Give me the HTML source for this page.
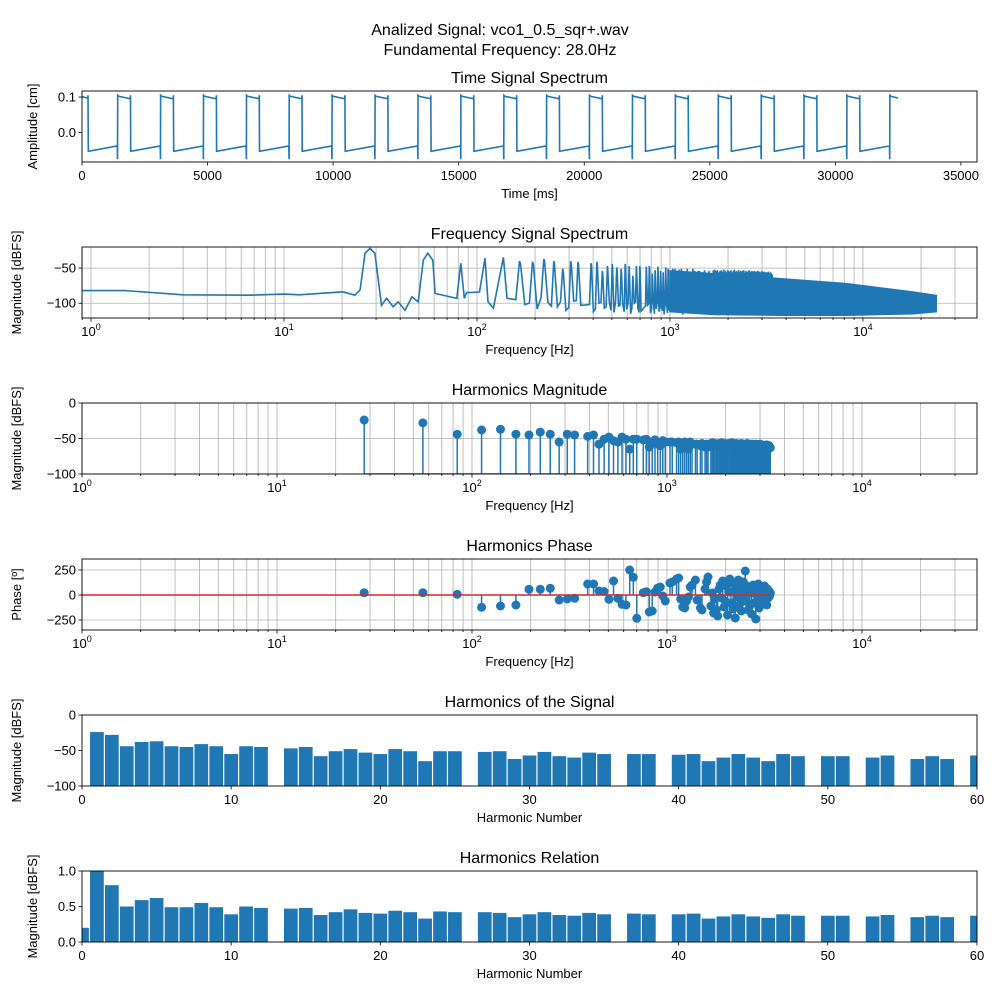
<!DOCTYPE html>
<html><head><meta charset="utf-8"><style>
html,body{margin:0;padding:0;background:#fff;}
svg{display:block;font-family:"Liberation Sans","DejaVu Sans",sans-serif;}
</style></head><body>
<svg id="fig" width="1000" height="1000" viewBox="0 0 1000 1000" xmlns="http://www.w3.org/2000/svg">
<rect width="1000" height="1000" fill="#fff"/>
<text x="500" y="35" font-size="16" text-anchor="middle">Analized Signal: vco1_0.5_sqr+.wav</text>
<text x="500" y="55" font-size="16" text-anchor="middle">Fundamental Frequency: 28.0Hz</text>
</svg>
<script>
// ---------- data ----------
const riseTimes=[1420,3130,4840,6550,8250,9960,11670,13380,15090,16800,18500,20210,21920,23630,25340,27050,28750,30460,32170];
const timeEnd=32500;
const specF=[0.9,1.5,3,6.67,10,12,20.2,23.3,24.8,26.3,27.9,29.6,32,34,36.8,39,42.4,46,49.6,52.7,55.6,59,60.7,72.5,78.6,82.4,86,88.3,103,110,114,121.6,137,143];
const specDb=[-82,-82,-88,-88.6,-87,-88,-83.8,-88.6,-81,-29,-22,-29,-103,-93,-105,-98,-110,-91,-98,-38.6,-29,-38.6,-86,-91,-93,-43,-93,-85,-84,-36,-98,-107,-34.6,-93];
const floorDb=[-95,-100,-92,-104,-98,-106,-96,-102,-108,-99,-105,-110,-97,-103,-112,-100,-107,-98,-113,-104,-101,-109,-115,-100,-106,-111,-103,-114,-99,-108,-112,-105,-116,-102,-110];
const envF=[1000,1700,3700,8200,18200,24000];
const envTop=[-54,-58,-65,-72,-84,-89];
const envBot=[-112,-116,-117,-117,-115,-112];
const harmNlow=[1,2,3,4,5,6,7,8,9,10,11,12,14,15,16,17,18,19,20,21,22,23,24,25,27,28,29,30,31,32,33,34,35,37,38,40,41,42,43,44,45,46,47,48,50,51,53,54,56,57,58,60];
const harmMag=[-24,-28,-44,-38,-37,-44,-45,-41,-44,-55,-44,-45,-47,-45,-58,-51,-48,-53,-55,-48,-51,-65,-51,-51,-52,-51,-62,-57,-52,-58,-60,-53,-55,-55,-55,-56,-55,-65,-60,-55,-60,-65,-55,-58,-58,-58,-60,-57,-62,-58,-62,-57,
-56,-58,-57,-60,-58,-57,-59,-56,-58,-60,-57,-58,-59,-57,-60,-58,-56,-59,-58,-60,-57,-59,-58,-60,-58,-57,-61,-58,-59,-60,-58,-57,-60,-59,-58,-61,-59,-58,-60,-59,-61,-58,-60,-59,-61,-60,-58,-61,-60,-59,-61,-60,-62,-60,-61,-59,-62,-61,-60,-62,-63];
const harmPhase=[23,23,7,-123,-110,-100,57,57,67,-50,-40,-33,110,110,40,35,-43,140,-33,-93,-100,250,177,-233,23,33,-170,-160,30,70,80,-10,-60,120,130,160,170,-40,-120,-130,-60,-20,80,100,150,-50,-130,-150,60,130,180,-110,
20,-180,-40,-150,-210,60,100,-30,140,-120,-60,90,-200,30,160,-80,120,-140,40,-230,80,-20,150,-100,60,-160,10,130,-60,240,-40,90,-150,50,-110,70,-190,20,100,-80,40,-240,60,-50,110,-130,30,80,-20,-90,50,-60,90,-40,20,-100,60,-30,40,-10,20];
const barN=[0,1,2,3,4,5,6,7,8,9,10,11,12,14,15,16,17,18,19,20,21,22,23,24,25,27,28,29,30,31,32,33,34,35,37,38,40,41,42,43,44,45,46,47,48,50,51,53,54,56,57,58,60];
const barDb=[-100,-24,-28,-44,-38,-37,-44,-45,-41,-44,-55,-44,-45,-47,-45,-58,-51,-48,-53,-55,-48,-51,-65,-51,-51,-52,-51,-62,-57,-52,-58,-60,-53,-55,-55,-55,-56,-55,-65,-60,-55,-60,-65,-55,-58,-58,-58,-60,-57,-62,-58,-62,-57];
const barRel=[0.2,1.0,0.8,0.5,0.59,0.62,0.49,0.49,0.55,0.49,0.39,0.5,0.48,0.47,0.48,0.38,0.42,0.46,0.41,0.40,0.44,0.42,0.33,0.43,0.42,0.42,0.41,0.35,0.39,0.42,0.38,0.37,0.41,0.39,0.40,0.39,0.39,0.40,0.33,0.36,0.39,0.36,0.34,0.39,0.37,0.37,0.37,0.36,0.38,0.35,0.37,0.35,0.37];
const fund=28.0;
const harmN=harmNlow.slice();
for(let n=61;n<=121;n++) harmN.push(n);

// ---------- helpers ----------
const NS='http://www.w3.org/2000/svg';
const svg=document.getElementById('fig');
const BLUE='#1f77b4';
function mk(tag,attrs,parent){const e=document.createElementNS(NS,tag);for(const k in attrs)e.setAttribute(k,attrs[k]);(parent||svg).appendChild(e);return e;}
const L=82,R=977,H=71;
function linS(d0,d1,r0,r1){return v=>r0+(v-d0)/(d1-d0)*(r1-r0);}
function logS(d0,d1,r0,r1){const a=Math.log10(d0),b=Math.log10(d1);return v=>r0+(Math.log10(v)-a)/(b-a)*(r1-r0);}
let clipId=0;
function panel(name,top){
  const g=mk('g',{});
  
  
  const cid='clip'+(clipId++);
  const cp=mk('clipPath',{id:cid},g);mk('rect',{x:L,y:top,width:R-L,height:H},cp);
  const grid=mk('g',{},g);
  const marks=mk('g',{'clip-path':'url(#'+cid+')'},g);
  const axes=mk('g',{},g);
  return {g,grid,marks,axes,top,bot:top+H};
}
function frame(p){mk('rect',{x:L,y:p.top,width:R-L,height:H,fill:'none',stroke:'#000','stroke-width':0.9},p.axes);}
function xTick(p,x,label,minor,gridOn,sup){
  if(gridOn){mk('line',{x1:x,x2:x,y1:p.top,y2:p.bot,stroke:'#b0b0b0','stroke-width':0.8},p.grid);}
  mk('line',{x1:x,x2:x,y1:p.bot,y2:p.bot+(minor?2:3.5),stroke:'#000','stroke-width':0.8},p.axes);
  if(label!==null){
    const t=mk('text',{x:x,y:p.bot+18,'font-size':13,'text-anchor':'middle'},p.axes);
    
    
    if(sup!==undefined){t.textContent='10';const s=mk('tspan',{'font-size':9,dy:-6},t);s.textContent=sup;}
    else t.textContent=label;
  }
}
function yTick(p,y,label,gridOn){
  if(gridOn)mk('line',{x1:L,x2:R,y1:y,y2:y,stroke:'#b0b0b0','stroke-width':0.8},p.grid);
  mk('line',{x1:L-3.5,x2:L,y1:y,y2:y,stroke:'#000','stroke-width':0.8},p.axes);
  const t=mk('text',{x:L-6,y:y+4.5,'font-size':13,'text-anchor':'end'},p.axes);
  
  
  t.textContent=label;
}
function labels(p,title,xl,yl,ylx){
  const t=mk('text',{x:(L+R)/2,y:p.top-8,'font-size':16,'text-anchor':'middle'},p.axes);
  
  
  t.textContent=title;
  const x=mk('text',{x:(L+R)/2,y:p.bot+36,'font-size':13,'text-anchor':'middle'},p.axes);
  
  
  x.textContent=xl;
  const y=mk('text',{x:ylx,y:(p.top+p.bot)/2,'font-size':13,'text-anchor':'middle',transform:'rotate(-90 '+ylx+' '+(p.top+p.bot)/2+')'},p.axes);
  
  
  y.textContent=yl;
}
function logTicks(p,xs,d0,d1,gridOn){
  for(let e=-1;e<=5;e++){for(let m=1;m<10;m++){const v=m*Math.pow(10,e);if(v<d0-1e-9||v>d1)continue;
    xTick(p,xs(v),m===1?'':null,m!==1,gridOn,m===1?String(e):undefined);}}
}
const minus=s=>String(s).replace('-','\u2212');

// ---------- Panel 1: time ----------
(function(){
  const p=panel('time-signal-panel',91);
  const xs=linS(0,35640,L,R), ys=linS(-0.083,0.117,p.bot,p.top);
  let pts=[[0,0.101],[230,0.097],[240,0.105],[250,-0.053]];
  riseTimes.forEach((t,i)=>{
    pts.push([t-15,-0.038],[t-5,-0.075],[t,0.105],[t+40,0.102],[t+500,0.095],[t+510,0.105]);
    if(t+520<timeEnd) pts.push([t+520,-0.053]);
  });
  const last=riseTimes[riseTimes.length-1];
  pts=pts.filter(q=>!(q[0]>last+40));
  pts.push([timeEnd,0.097]);
  const path=mk('path',{d:'M'+pts.map(q=>xs(q[0]).toFixed(1)+','+ys(q[1]).toFixed(1)).join('L'),fill:'none',stroke:BLUE,'stroke-width':1.6},p.marks);
  
  
  [0,5000,10000,15000,20000,25000,30000,35000].forEach(v=>xTick(p,xs(v),String(v),false,false));
  yTick(p,ys(0.1),'0.1',false);yTick(p,ys(0),'0.0',false);
  frame(p);labels(p,'Time Signal Spectrum','Time [ms]','Amplitude [cm]',37);
})();

// ---------- Panel 2: frequency spectrum ----------
(function(){
  const p=panel('frequency-spectrum-panel',247);
  const xs=logS(0.898,39000,L,R), ys=linS(-121,-20,p.bot,p.top);
  const pts=specF.map((f,i)=>[f,specDb[i]]);
  let k=0;
  harmN.forEach((n,i)=>{ if(n<6) return; const f=fund*n;
    pts.push([f-9,floorDb[k%floorDb.length]],[f-2,harmMag[i]+4],[f,harmMag[i]],[f+9,floorDb[(k+7)%floorDb.length]]); k++; });
  const path=mk('path',{d:'M'+pts.map(q=>xs(q[0]).toFixed(1)+','+ys(q[1]).toFixed(1)).join('L'),fill:'none',stroke:BLUE,'stroke-width':1.6},p.marks);
  
  
  const band=envF.map((f,i)=>xs(f).toFixed(1)+','+ys(envTop[i]).toFixed(1)).concat(envF.slice().reverse().map((f,j)=>{const i=envF.length-1-j;return xs(f).toFixed(1)+','+ys(envBot[i]).toFixed(1);}));
  const poly=mk('polygon',{points:band.join(' '),fill:BLUE,stroke:BLUE,'stroke-width':1.5},p.marks);
  
  
  logTicks(p,xs,0.898,39000,true);
  [-50,-100].forEach(v=>yTick(p,ys(v),minus(v),true));
  frame(p);labels(p,'Frequency Signal Spectrum','Frequency [Hz]','Magnitude [dBFS]',21);
})();

// ---------- Panel 3: harmonics magnitude ----------
(function(){
  const p=panel('harmonics-magnitude-panel',403);
  const xs=logS(1,38900,L,R), ys=linS(-100,0,p.bot,p.top);
  logTicks(p,xs,1,38900,true);
  [0,-50,-100].forEach(v=>yTick(p,ys(v),minus(v),true));
  harmN.forEach((n,i)=>{const x=xs(fund*n);
    const l=mk('line',{x1:x,x2:x,y1:ys(-100),y2:ys(harmMag[i]),stroke:BLUE,'stroke-width':1.5},p.marks);
    
    });
  const bl=mk('line',{x1:xs(fund*harmN[0]),x2:xs(fund*harmN[harmN.length-1]),y1:ys(-100),y2:ys(-100),stroke:'#d62728','stroke-width':1.5},p.marks);
  
  
  harmN.forEach((n,i)=>{
    const c=mk('circle',{cx:xs(fund*n),cy:ys(harmMag[i]),r:4.5,fill:BLUE},p.marks);
    
    });
  frame(p);labels(p,'Harmonics Magnitude','Frequency [Hz]','Magnitude [dBFS]',21);
})();

// ---------- Panel 4: harmonics phase ----------
(function(){
  const p=panel('harmonics-phase-panel',559);
  const xs=logS(1,38900,L,R), ys=linS(-350,360,p.bot,p.top);
  logTicks(p,xs,1,38900,true);
  [250,0,-250].forEach(v=>yTick(p,ys(v),minus(v),true));
  harmN.forEach((n,i)=>{const x=xs(fund*n);
    const l=mk('line',{x1:x,x2:x,y1:ys(0),y2:ys(harmPhase[i]),stroke:BLUE,'stroke-width':1.5},p.marks);
    
    });
  harmN.forEach((n,i)=>{
    const c=mk('circle',{cx:xs(fund*n),cy:ys(harmPhase[i]),r:4.5,fill:BLUE},p.marks);
    
    });
  const bl=mk('line',{x1:L,x2:xs(fund*harmN[harmN.length-1]),y1:ys(0),y2:ys(0),stroke:'#d62728','stroke-width':1.5},p.marks);
  
  
  frame(p);labels(p,'Harmonics Phase','Frequency [Hz]','Phase [º]',21);
})();

// ---------- Panels 5 & 6: bars ----------
function bars(name,top,vals,y0,y1,ticks,fmt,title,ylx,barName){
  const p=panel(name,top);
  const xs=linS(0,60,L,R), ys=linS(y0,y1,p.bot,p.top);
  barN.forEach((n,i)=>{const xa=xs(n-0.46),xb=xs(n+0.46);const v=vals[i];
    const yt=ys(Math.max(v,y0));
    const base=ys(y0>=0?0:y0);
    const r=mk('rect',{x:xa,y:Math.min(yt,base),width:xb-xa,height:Math.abs(base-yt),fill:BLUE},p.marks);
    
    });
  [0,10,20,30,40,50,60].forEach(v=>xTick(p,xs(v),String(v),false,false));
  ticks.forEach(v=>yTick(p,ys(v),fmt(v),false));
  frame(p);labels(p,title,'Harmonic Number','Magnitude [dBFS]',ylx);
}
bars('harmonics-signal-panel',715,barDb,-100,0,[0,-50,-100],v=>minus(v),'Harmonics of the Signal',21,'harmonic-bar');
bars('harmonics-relation-panel',871,barRel,0,1,[1,0.5,0],v=>v.toFixed(1),'Harmonics Relation',37,'relation-bar');
</script>
</body></html>
